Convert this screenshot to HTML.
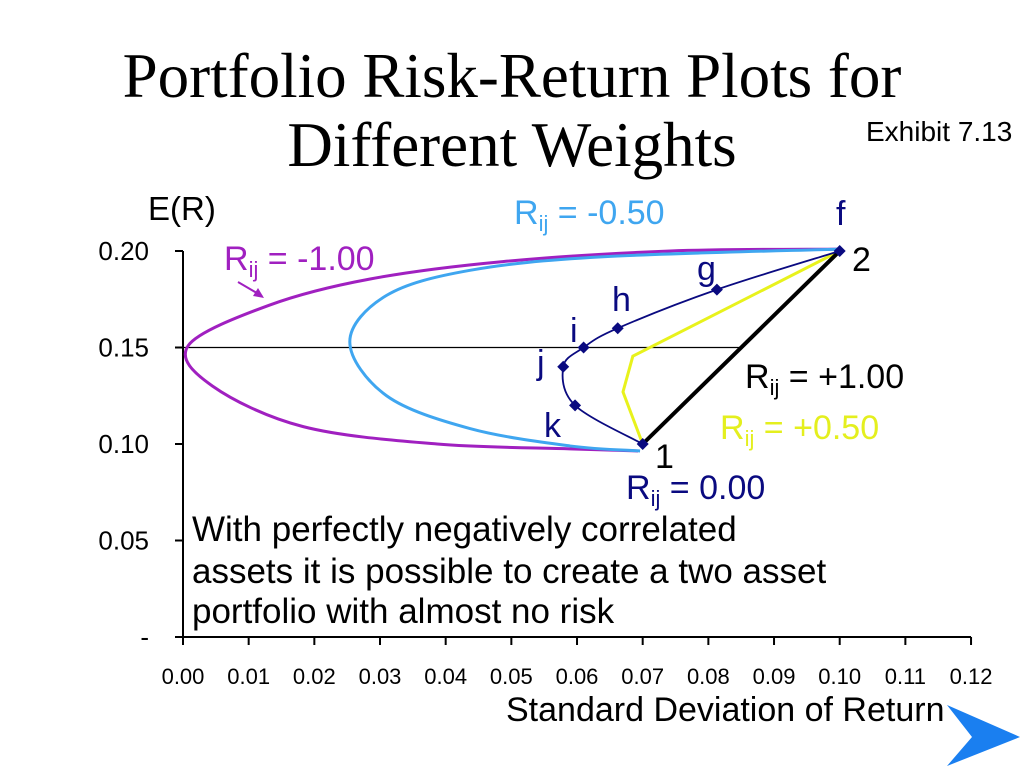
<!DOCTYPE html>
<html><head><meta charset="utf-8"><style>
html,body{margin:0;padding:0;background:#fff;}
body{width:1024px;height:768px;overflow:hidden;}
svg text{font-family:"Liberation Sans",sans-serif;}
</style></head><body>
<svg id="chart" width="1024" height="768" viewBox="0 0 1024 768" xmlns="http://www.w3.org/2000/svg">
<text x="512" y="97" text-anchor="middle" style="font-family:'Liberation Serif',serif;font-size:63px">Portfolio Risk-Return Plots for</text>
<text x="512" y="166" text-anchor="middle" style="font-family:'Liberation Serif',serif;font-size:63px">Different Weights</text>
<text x="866" y="141" font-size="28">Exhibit 7.13</text>
<text x="148" y="220" font-size="33">E(R)</text>
<text x="506" y="721" font-size="34">Standard Deviation of Return</text>
<g id="axes"></g>
<g id="series"></g>
<g id="labels" font-size="34">
<text x="514" y="224" fill="#3fa6f0">R<tspan font-size="22" dy="7">ij</tspan><tspan dy="-7"> = -0.50</tspan></text>
<text x="224" y="270" fill="#a020c0">R<tspan font-size="22" dy="7">ij</tspan><tspan dy="-7"> = -1.00</tspan></text>
<text x="745" y="388" fill="#000">R<tspan font-size="22" dy="7">ij</tspan><tspan dy="-7"> = +1.00</tspan></text>
<text x="720" y="439" fill="#e4ef1e">R<tspan font-size="22" dy="7">ij</tspan><tspan dy="-7"> = +0.50</tspan></text>
<text x="626" y="499" fill="#0a0a80">R<tspan font-size="22" dy="7">ij</tspan><tspan dy="-7"> = 0.00</tspan></text>
<text x="836" y="225" fill="#0a0a80">f</text>
<text x="852" y="271" fill="#000">2</text>
<text x="697" y="280" fill="#0a0a80">g</text>
<text x="612" y="311" fill="#0a0a80">h</text>
<text x="570" y="342" fill="#0a0a80">i</text>
<text x="537" y="374" fill="#0a0a80">j</text>
<text x="544" y="437" fill="#0a0a80">k</text>
<text x="655" y="468" fill="#000">1</text>
</g>
<line x1="238" y1="282" x2="262" y2="296" stroke="#a020c0" stroke-width="2"/>
<polygon points="264,298 253,296 258,288" fill="#a020c0"/>
<g font-size="35">
<text x="192" y="541">With perfectly negatively correlated</text>
<text x="192" y="583">assets it is possible to create a two asset</text>
<text x="192" y="623">portfolio with almost no risk</text>
</g>
<polygon points="947,705 1020,737 947,766 972,737" fill="#1a7ff0"/>
</svg>
<script>
const xTicks=[0,0.01,0.02,0.03,0.04,0.05,0.06,0.07,0.08,0.09,0.10,0.11,0.12];
const xTickLabels=["0.00","0.01","0.02","0.03","0.04","0.05","0.06","0.07","0.08","0.09","0.10","0.11","0.12"];
const yTicks=[0,0.05,0.10,0.15,0.20];
const yTickLabels=["-","0.05","0.10","0.15","0.20"];
const rhoMinus100=[[0.100,0.201],[0.0742,0.200],[0.0487,0.1945],[0.0285,0.1855],[0.0132,0.172],[0.0008,0.151],[0.0045,0.130],[0.0183,0.109],[0.0387,0.100],[0.0589,0.0975],[0.0693,0.0964]];
const rhoMinus050=[[0.100,0.201],[0.064,0.197],[0.0437,0.190],[0.031,0.177],[0.0254,0.153],[0.031,0.125],[0.0437,0.108],[0.0589,0.099],[0.0696,0.0964]];
const rhoZero=[[0.100,0.200],[0.0813,0.180],[0.0662,0.160],[0.061,0.150],[0.0579,0.140],[0.0597,0.120],[0.070,0.100]];
const rhoPlus050=[[0.100,0.200],[0.0685,0.1455],[0.067,0.127],[0.070,0.100]];
const rhoPlus100=[[0.070,0.100],[0.100,0.200]];
const refLine=[[0,0.15],[0.0848,0.15]];

const X0=183,XS=6567,Y0=637,YS=1930;
const sx=v=>X0+v*XS, sy=v=>Y0-v*YS;
const NS="http://www.w3.org/2000/svg";
const axes=document.getElementById('axes'), series=document.getElementById('series');
function mk(tag,attrs,parent){const e=document.createElementNS(NS,tag);for(const k in attrs)e.setAttribute(k,attrs[k]);parent.appendChild(e);return e;}

let yAxis=mk('line',{x1:X0,y1:sy(0.2),x2:X0,y2:Y0,stroke:'#000','stroke-width':2},axes);


let xAxis=mk('line',{x1:X0,y1:Y0,x2:sx(0.12),y2:Y0,stroke:'#000','stroke-width':2},axes);


xTicks.forEach((t,i)=>{
  const tk=mk('line',{x1:sx(t),y1:Y0,x2:sx(t),y2:Y0+8,stroke:'#000','stroke-width':2},axes);
  
  
  const lb=mk('text',{x:sx(t),y:Y0+47,'text-anchor':'middle','font-size':22},axes);
  lb.textContent=xTickLabels[i];
  
  
});
yTicks.forEach((t,i)=>{
  const tk=mk('line',{x1:X0-8,y1:sy(t),x2:X0,y2:sy(t),stroke:'#000','stroke-width':2},axes);
  
  
  const lb=mk('text',{x:149,y:sy(t)+9,'text-anchor':'end','font-size':26},axes);
  lb.textContent=yTickLabels[i];
  
  
});

function smooth(pts){
  const p=pts.map(d=>[sx(d[0]),sy(d[1])]);
  let d='M'+p[0][0]+','+p[0][1];
  for(let i=0;i<p.length-1;i++){
    const a=p[Math.max(i-1,0)],b=p[i],c=p[i+1],e=p[Math.min(i+2,p.length-1)];
    const c1=[b[0]+(c[0]-a[0])/6,b[1]+(c[1]-a[1])/6],c2=[c[0]-(e[0]-b[0])/6,c[1]-(e[1]-b[1])/6];
    d+=' C'+c1+' '+c2+' '+c;
  }
  return d;
}
function straight(pts){return pts.map((d,i)=>(i?'L':'M')+sx(d[0])+','+sy(d[1])).join(' ');}

let rl=mk('path',{d:straight(refLine),stroke:'#000','stroke-width':1.3,fill:'none'},series);


let s1=mk('path',{d:smooth(rhoMinus100),stroke:'#a020c0','stroke-width':3,fill:'none'},series);


let s2=mk('path',{d:smooth(rhoMinus050),stroke:'#3fa6f0','stroke-width':3,fill:'none'},series);


let s4=mk('path',{d:straight(rhoPlus050),stroke:'#e8f21c','stroke-width':3,fill:'none'},series);


let s5=mk('path',{d:straight(rhoPlus100),stroke:'#000','stroke-width':4,fill:'none'},series);


let s3=mk('path',{d:smooth(rhoZero),stroke:'#0a0a80','stroke-width':1.8,fill:'none'},series);


rhoZero.forEach(d=>{
  const x=sx(d[0]),y=sy(d[1]);
  const m=mk('polygon',{points:`${x},${y-6} ${x+6},${y} ${x},${y+6} ${x-6},${y}`,fill:'#0a0a80'},series);
  
  
});
</script>
</body></html>
